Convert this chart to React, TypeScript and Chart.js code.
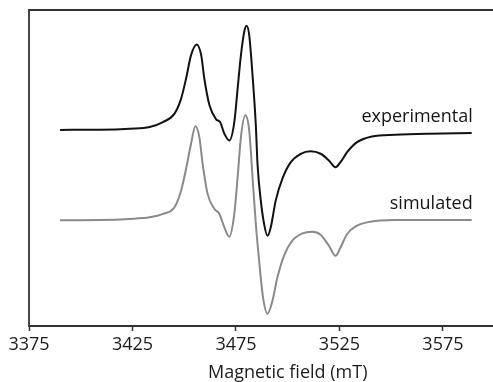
import React, { useEffect, useRef } from "react";
import { Chart, registerables } from "chart.js";

Chart.register(...registerables);

// x ticks (mT)
const xTicks = [3375, 3425, 3475, 3525, 3575, 3625];

// experimental spectrum (arbitrary intensity units)
const expField = [
  3390.0, 3409.2, 3423.7, 3433.3, 3439.7, 3445.3, 3448.5, 3450.9, 3453.3, 3456.0,
  3458.2, 3459.7, 3462.2, 3465.4, 3467.3, 3469.4, 3471.8, 3474.2, 3475.8, 3477.4,
  3479.0, 3480.1, 3481.4, 3483.0, 3484.6, 3485.4, 3487.0, 3488.6, 3490.2, 3491.8,
  3494.2, 3497.4, 3501.5, 3506.3, 3511.1, 3515.9, 3519.9, 3523.1, 3525.5, 3528.7,
  3533.5, 3540.7, 3552.0, 3568.0, 3588.9,
];
const experimental = [
  195.5, 195.7, 196.7, 198.3, 203.3, 211.7, 226.7, 246.7, 270, 280.7,
  270, 246.7, 220, 206, 203.3, 191.7, 185, 203.3, 236.7, 270,
  293.3, 299.3, 290, 250, 200, 161.7, 125, 101.7, 90, 98.3,
  125, 146.7, 163.3, 171.7, 174.3, 171.7, 165, 158.3, 163.3, 173.3,
  183.3, 189, 190.7, 191.7, 192.3,
];

// simulated spectrum (arbitrary intensity units)
const simField = [
  3390.0, 3409.2, 3423.7, 3433.3, 3439.7, 3445.3, 3448.5, 3450.9, 3453.3, 3455.4,
  3457.3, 3458.9, 3461.3, 3464.6, 3467.0, 3469.4, 3471.8, 3474.2, 3475.8, 3477.4,
  3479.5, 3481.4, 3483.0, 3484.6, 3486.2, 3488.1, 3490.2, 3492.6, 3495.0,
  3498.2, 3502.2, 3507.1, 3511.9, 3515.9, 3519.9, 3523.1, 3525.5, 3528.7, 3533.5,
  3538.3, 3552.0, 3588.9,
];
const simulated = [
  105.5, 105.7, 106.7, 108.3, 111.7, 118.3, 135, 156.7, 181.7, 199,
  188.3, 161.7, 131.7, 116.7, 111.7, 98.3, 89, 111.7, 148.3, 188.3,
  210, 195, 148.3, 101.7, 65, 28.3, 12.3, 25, 48.3,
  70, 85, 92.3, 94, 91, 80, 70, 78.3, 91.7, 100,
  103.3, 105.7, 105.7,
];

const seriesLabels = ["experimental", "simulated"];
const seriesColors = ["#121212", "#8a8a8a"];

const FONT = "'Open Sans', 'DejaVu Sans', sans-serif";

export default function App() {
  const ref = useRef<HTMLCanvasElement | null>(null);

  useEffect(() => {
    if (!ref.current) return;
    const framePlugin = {
      id: "frameAndLabels",
      afterDatasetsDraw(chart: any) {
        const { ctx, chartArea } = chart;
        ctx.save();
        ctx.strokeStyle = "#333333";
        ctx.lineWidth = 1.8;
        ctx.beginPath();
        ctx.moveTo(chartArea.right, chartArea.top);
        ctx.lineTo(chartArea.left, chartArea.top);
        ctx.lineTo(chartArea.left, chartArea.bottom);
        ctx.lineTo(chartArea.right, chartArea.bottom);
        ctx.stroke();

        const xs = chart.scales.x;
        const ys = chart.scales.y;
        ctx.font = `18px ${FONT}`;
        ctx.fillStyle = "#161616";
        ctx.textAlign = "right";
        ctx.textBaseline = "middle";
        chart.data.datasets.forEach((ds: any, i: number) => {
          const last = ds.data[ds.data.length - 1];
          const px = xs.getPixelForValue(last.x);
          const py = ys.getPixelForValue(last.y);
          ctx.fillText(seriesLabels[i], px + 1, py - 16);
        });
        ctx.restore();
      },
    };

    const chart = new Chart(ref.current, {
      type: "line",
      data: {
        datasets: [
          {
            label: seriesLabels[0],
            data: expField.map((x, i) => ({ x, y: experimental[i] })),
            borderColor: seriesColors[0],
            borderWidth: 2,
            pointRadius: 0,
            cubicInterpolationMode: "monotone",
            fill: false,
          },
          {
            label: seriesLabels[1],
            data: simField.map((x, i) => ({ x, y: simulated[i] })),
            borderColor: seriesColors[1],
            borderWidth: 2,
            pointRadius: 0,
            cubicInterpolationMode: "monotone",
            fill: false,
          },
        ],
      },
      options: {
        animation: false,
        responsive: false,
        maintainAspectRatio: false,
        layout: { padding: { left: 29, top: 10, right: 24, bottom: 0 } },
        plugins: {
          legend: { display: false },
          tooltip: { enabled: false },
        },
        scales: {
          x: {
            type: "linear",
            min: xTicks[0],
            max: xTicks[xTicks.length - 1],
            afterBuildTicks: (axis: any) => {
              axis.ticks = xTicks.map((v) => ({ value: v }));
            },
            border: { display: false },
            grid: {
              drawOnChartArea: false,
              drawTicks: true,
              tickLength: 5,
              tickColor: "#333333",
              tickWidth: 1.5,
            },
            ticks: {
              padding: 5,
              color: "#1c1c1c",
              font: { family: FONT, size: 18, lineHeight: 1.0 },
              maxRotation: 0,
              autoSkip: false,
              callback: (v: any) => String(v),
            },
            title: {
              display: true,
              text: "Magnetic field (mT)",
              color: "#1c1c1c",
              font: { family: FONT, size: 18, lineHeight: 1.0 },
              padding: { top: 5, bottom: 0 },
            },
          },
          y: {
            display: false,
            min: 0,
            max: 315,
          },
        },
      },
      plugins: [framePlugin],
    });
    return () => chart.destroy();
  }, []);

  return (
    <div
      style={{
        position: "fixed",
        left: 0,
        top: 0,
        width: 493,
        height: 382,
        overflow: "hidden",
        background: "#fff",
      }}
    >
      <canvas ref={ref} width={572} height={382} style={{ display: "block" }} />
    </div>
  );
}
